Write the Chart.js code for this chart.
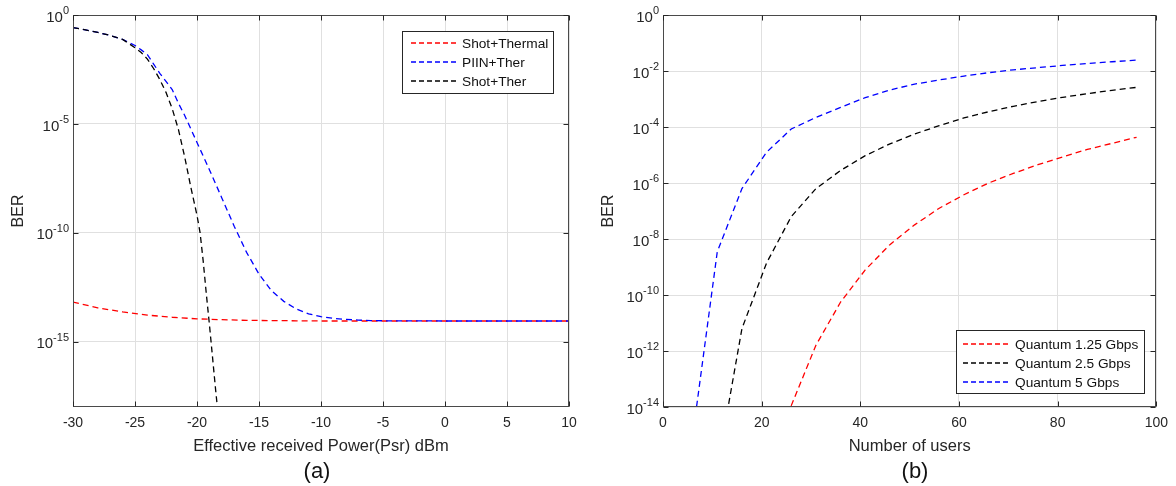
<!DOCTYPE html>
<html><head><meta charset="utf-8">
<script src="https://cdn.jsdelivr.net/npm/chart.js@4.4.0/dist/chart.umd.min.js"></script>
<style>
html,body{margin:0;padding:0;background:#fff;width:1176px;height:486px;overflow:hidden}
#wa{position:absolute;left:0;top:0;width:588px;height:486px}
#wb{position:absolute;left:588px;top:0;width:588px;height:486px}
</style></head><body>
<div id="wa"><canvas id="ca" width="588" height="486"></canvas></div>
<div id="wb"><canvas id="cb" width="588" height="486"></canvas></div>
<script>
// ---------- Panel (a): BER vs effective received power ----------
const xTicksA = [-30, -25, -20, -15, -10, -5, 0, 5, 10];
const yTickExpA = [0, -5, -10, -15];

const xShotThermal = [-30, -28, -26, -24, -22, -20, -18, -16, -14, -12, -10, -5, 0, 5, 10];
const berShotThermal = [6.6e-14, 3.55e-14, 2.34e-14, 1.66e-14, 1.32e-14, 1.12e-14, 1.02e-14, 9.5e-15, 9.3e-15, 9.1e-15, 8.9e-15, 8.9e-15, 8.9e-15, 8.9e-15, 8.9e-15];

const xPiinTher = [-30, -29, -28, -27, -26, -25, -24.5, -24, -23.5, -23, -22.5, -22, -21.5, -21, -20, -19, -18, -17, -16, -15, -14, -13, -12, -11, -10, -9, -8, -7, -6, -5, 0, 5, 10];
const berPiinTher = [0.263, 0.209, 0.158, 0.115, 0.0759, 0.040, 0.025, 0.0151, 5.6e-3, 2.1e-3, 8.9e-4, 3.8e-4, 8.9e-5, 2.5e-5, 1.4e-6, 7.9e-8, 4.0e-9, 2.0e-10, 1.26e-11, 1.26e-12, 2.2e-13, 7.1e-14, 3.2e-14, 1.9e-14, 1.4e-14, 1.17e-14, 1.05e-14, 9.8e-15, 9.3e-15, 9.1e-15, 8.9e-15, 8.9e-15, 8.9e-15];

const xShotTher = [-30, -29, -28, -27, -26, -25, -24.5, -24, -23.5, -23, -22.5, -22, -21.5, -21, -20.5, -20, -19.75, -19.5, -19.25, -19, -18.75, -18.5, -18.25, -18];
const berShotTher = [0.263, 0.209, 0.158, 0.115, 0.0759, 0.0316, 0.019, 9.5e-3, 3.5e-3, 1.1e-3, 2.8e-4, 5.0e-5, 5.6e-6, 3.2e-7, 1.26e-8, 6.3e-10, 1.0e-10, 5.0e-12, 1.6e-13, 6.3e-15, 2.0e-16, 6.3e-18, 2.5e-19, 1.0e-20];

// ---------- Panel (b): BER vs number of users ----------
const xTicksB = [0, 20, 40, 60, 80, 100];
const yTickExpB = [0, -2, -4, -6, -8, -10, -12, -14];

const users = [6, 11, 16, 21, 26, 31, 36, 41, 46, 51, 56, 61, 66, 71, 76, 81, 86, 91, 96];
const berQ125 = [1e-30, 1e-25, 1e-21, 5.0e-18, 1.12e-14, 1.6e-12, 5.6e-11, 7.9e-10, 6.3e-9, 3.2e-8, 1.26e-7, 3.8e-7, 1.0e-6, 2.2e-6, 4.5e-6, 8.5e-6, 1.58e-5, 2.6e-5, 4.3e-5];
const berQ25 = [1e-22, 6.3e-17, 6.3e-12, 1.4e-9, 6.3e-8, 6.3e-7, 2.8e-6, 9.5e-6, 2.5e-5, 5.6e-5, 1.12e-4, 2.1e-4, 3.5e-4, 5.5e-4, 8.1e-4, 1.15e-3, 1.55e-3, 2.05e-3, 2.6e-3];
const berQ5 = [8.9e-16, 3.5e-9, 6.3e-7, 1.26e-5, 8.5e-5, 2.2e-4, 5.0e-4, 1.12e-3, 2.1e-3, 3.4e-3, 4.8e-3, 6.6e-3, 8.7e-3, 0.011, 0.0132, 0.0158, 0.0186, 0.0214, 0.0245];

// ---------- styling ----------
const FONT = "'Liberation Sans', Arial, Helvetica, sans-serif";
const AX = '#262626';
const GRID = '#e0e0e0';
const DASH = [6, 4];

function pts(xs, ys) { return xs.map((x, i) => ({ x: x, y: ys[i] })); }
function ds(label, xs, ys, color, order) {
  return { label: label, data: pts(xs, ys), borderColor: color, backgroundColor: color,
    borderWidth: 1.3, borderDash: DASH, pointRadius: 0, tension: 0, fill: false, order: order };
}

const axesPlugin = {
  id: 'matlabAxes',
  afterDatasetsDraw(chart, args, o) {
    const ctx = chart.ctx, a = chart.chartArea;
    const xs = chart.scales.x, ys = chart.scales.y;
    const L = Math.round(a.left) + 0.5, R = Math.round(a.right) - 0.5;
    const T = Math.round(a.top) + 0.5, B = Math.round(a.bottom) - 0.5;
    ctx.save();
    ctx.strokeStyle = '#4a4a4a';
    ctx.lineWidth = 1;
    ctx.strokeRect(L, T, R - L, B - T);
    ctx.strokeStyle = AX;
    ctx.beginPath();
    xs.ticks.forEach(t => {
      const px = Math.round(xs.getPixelForValue(t.value)) + 0.5;
      ctx.moveTo(px, B); ctx.lineTo(px, B - 5);
      ctx.moveTo(px, T); ctx.lineTo(px, T + 5);
    });
    ys.ticks.forEach(t => {
      const py = Math.round(ys.getPixelForValue(t.value)) + 0.5;
      ctx.moveTo(L, py); ctx.lineTo(L + 5, py);
      ctx.moveTo(R, py); ctx.lineTo(R - 5, py);
    });
    ctx.stroke();
    // y tick labels as 10^n with real superscripts
    ctx.fillStyle = AX;
    ctx.textBaseline = 'middle';
    o.yExp.forEach(e => {
      const py = ys.getPixelForValue(Math.pow(10, e));
      const sup = String(e);
      ctx.font = '11px ' + FONT;
      const ws = ctx.measureText(sup).width;
      const right = a.left - 4;
      ctx.textAlign = 'left';
      ctx.fillText(sup, right - ws, py - 4);
      ctx.font = '15px ' + FONT;
      ctx.textAlign = 'right';
      ctx.fillText('10', right - ws, py + 2.5);
    });
    ctx.restore();
  },
  afterDraw(chart, args, o) {
    const ctx = chart.ctx;
    ctx.save();
    // boxed legend
    const lg = o.legend;
    ctx.fillStyle = '#fff';
    ctx.fillRect(lg.x, lg.y, lg.w, lg.h);
    ctx.strokeStyle = AX;
    ctx.lineWidth = 1;
    ctx.strokeRect(lg.x + 0.5, lg.y + 0.5, lg.w, lg.h);
    ctx.font = '13.7px ' + FONT;
    ctx.textAlign = 'left';
    ctx.textBaseline = 'middle';
    chart.data.datasets.forEach((d, i) => {
      const y = lg.y + lg.first + i * lg.step;
      ctx.strokeStyle = d.borderColor;
      ctx.lineWidth = 1.4;
      ctx.setLineDash([5, 3]);
      ctx.beginPath();
      ctx.moveTo(lg.x + lg.s0, y);
      ctx.lineTo(lg.x + lg.s1, y);
      ctx.stroke();
      ctx.setLineDash([]);
      ctx.fillStyle = '#111';
      ctx.fillText(d.label, lg.x + lg.tx, y + 1);
    });
    // panel caption
    ctx.fillStyle = '#111';
    ctx.font = '22px ' + FONT;
    ctx.textAlign = 'center';
    ctx.textBaseline = 'middle';
    ctx.fillText(o.caption.text, o.caption.x, o.caption.y);
    ctx.restore();
  }
};

function makeChart(id, cfg) {
  return new Chart(document.getElementById(id), {
    type: 'line',
    data: { datasets: cfg.datasets },
    options: {
      responsive: false, animation: false, devicePixelRatio: 1,
      layout: { padding: { top: 15, right: cfg.padRight, left: 0, bottom: 0 } },
      plugins: {
        legend: { display: false }, tooltip: { enabled: false },
        matlabAxes: { yExp: cfg.yExp, legend: cfg.legend, caption: cfg.caption }
      },
      scales: {
        x: {
          type: 'linear', min: cfg.xMin, max: cfg.xMax,
          afterBuildTicks: s => { s.ticks = cfg.xTicks.map(v => ({ value: v })); },
          afterFit: s => { s.height = 79; },
          grid: { color: GRID, drawTicks: false, lineWidth: 1 },
          border: { display: false },
          ticks: { color: AX, font: { family: FONT, size: 14 }, padding: 8, maxRotation: 0, autoSkip: false },
          title: { display: true, text: cfg.xTitle, color: AX, font: { family: FONT, size: 16.5 }, padding: { top: 0, bottom: 30 } }
        },
        y: {
          type: 'logarithmic', min: cfg.yMin, max: 1,
          afterBuildTicks: s => { s.ticks = cfg.yExp.map(e => ({ value: Math.pow(10, e) })); },
          afterFit: s => { s.width = cfg.yWidth; },
          grid: { color: GRID, drawTicks: false, lineWidth: 1 },
          border: { display: false },
          ticks: { display: false },
          title: { display: true, text: 'BER', color: AX, font: { family: FONT, size: 16 }, padding: { top: cfg.yTitlePad, bottom: 0 } }
        }
      }
    },
    plugins: [axesPlugin]
  });
}

makeChart('ca', {
  datasets: [
    ds('Shot+Thermal', xShotThermal, berShotThermal, '#ff0000', 3),
    ds('PIIN+Ther', xPiinTher, berPiinTher, '#0000ff', 2),
    ds('Shot+Ther', xShotTher, berShotTher, '#000000', 1)
  ],
  xMin: -30, xMax: 10, xTicks: xTicksA, yMin: 1e-18, yExp: yTickExpA,
  padRight: 19, yWidth: 73, yTitlePad: 9,
  xTitle: 'Effective received Power(Psr) dBm',
  legend: { x: 402, y: 31, w: 151, h: 62, first: 12, step: 19, s0: 9, s1: 56, tx: 60 },
  caption: { text: '(a)', x: 317, y: 472 }
});

makeChart('cb', {
  datasets: [
    ds('Quantum 1.25 Gbps', users, berQ125, '#ff0000', 3),
    ds('Quantum 2.5 Gbps', users, berQ25, '#000000', 2),
    ds('Quantum 5 Gbps', users, berQ5, '#0000ff', 1)
  ],
  xMin: 0, xMax: 100, xTicks: xTicksB, yMin: 1e-14, yExp: yTickExpB,
  padRight: 17, yWidth: 75, yTitlePad: 11,
  xTitle: 'Number of users',
  legend: { x: 368, y: 330, w: 188, h: 63, first: 14, step: 19, s0: 7, s1: 54, tx: 59 },
  caption: { text: '(b)', x: 327, y: 472 }
});
</script>
</body></html>
